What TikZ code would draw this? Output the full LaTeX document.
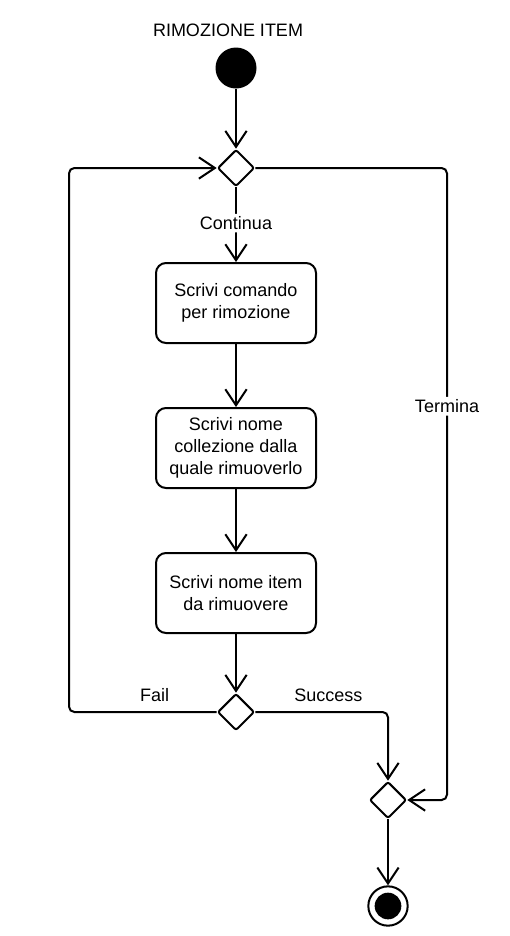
\documentclass[tikz,border=0pt]{standalone}
\usepackage{fontspec}
\setmainfont{Liberation Sans}
\usetikzlibrary{arrows.meta,shapes.geometric}
\begin{document}
\begin{tikzpicture}[x=0.75pt,y=-0.75pt,
  txt/.style={font=\fontsize{13.5}{16.5}\selectfont},
  act/.style={txt, draw, line width=1.5pt, rounded corners=7.5pt, minimum width=120pt, minimum height=60pt, align=center, inner sep=2pt},
  dec/.style={draw, diamond, aspect=1, line width=1.5pt, minimum size=27.5pt, inner sep=0pt, rounded corners=1.5pt},
  flow/.style={line width=1.5pt, -{Straight Barb[length=12pt,width=16pt]}, rounded corners=4pt},
  lbl/.style={txt, fill=white, inner sep=2pt}]
\useasboundingbox (0,0) rectangle (510,936);
\node[txt] (title) at (228,30) {RIMOZIONE ITEM};
\node[circle, fill=black, minimum size=30.75pt, inner sep=0pt] (start) at (236,68) {};
\node[dec] (d1) at (236,168) {};
\node[act] (b1) at (236,303) {Scrivi comando\\per rimozione};
\node[act] (b2) at (236,448) {Scrivi nome\\collezione dalla\\quale rimuoverlo};
\node[act] (b3) at (236,593) {Scrivi nome item\\da rimuovere};
\node[dec] (d3) at (236,712) {};
\node[dec] (d2) at (388,800) {};
\node[circle, draw, line width=1.5pt, minimum size=29.5pt, inner sep=0pt] (end) at (388,906) {};
\fill (end.center) circle (10pt);
\coordinate (rt) at (447,0);
\coordinate (lf) at (69,0);

\draw[flow] (start) -- (d1);
\draw[flow] (d1) -- node[lbl, pos=0.48] {Continua} (b1);
\draw[flow] (b1) -- (b2);
\draw[flow] (b2) -- (b3);
\draw[flow] (b3) -- (d3);
\draw[flow] (d1.east) -- (d1.east -| rt) -- node[lbl, pos=0.377] {Termina} (d2.east -| rt) -- (d2.east);
\draw[flow] (d3.west) -- node[txt, pos=0.42, above=4pt] {Fail} (d3.west -| lf) -- (d1.west -| lf) -- (d1.west);
\draw[flow] (d3.east) -- node[txt, pos=0.55, above=4pt] {Success} (d3.east -| d2) -- (d2.north);
\draw[flow] (d2) -- (end);
\end{tikzpicture}
\end{document}
